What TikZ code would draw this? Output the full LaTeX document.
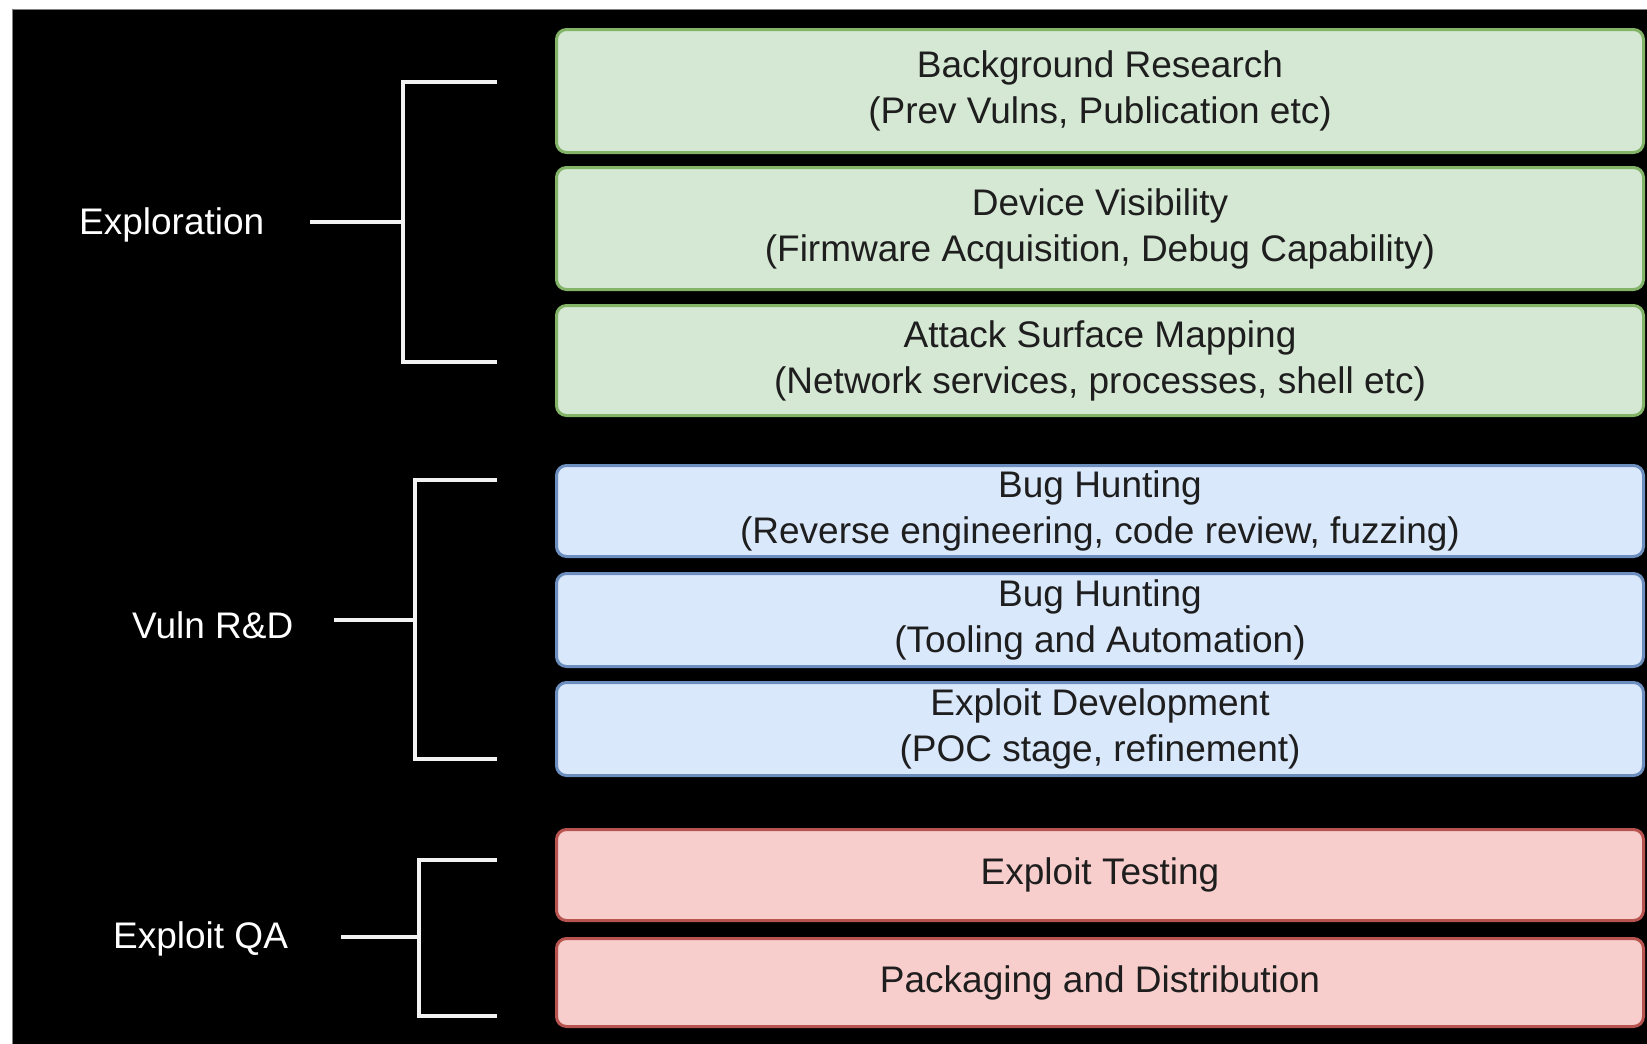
\documentclass[tikz,border=0pt]{standalone}
\usepackage{fontspec}
\setmainfont{Liberation Sans}
\definecolor{gfill}{HTML}{D5E8D4}
\definecolor{gline}{HTML}{82B366}
\definecolor{bfill}{HTML}{DAE8FC}
\definecolor{bline}{HTML}{6C8EBF}
\definecolor{rfill}{HTML}{F8CECC}
\definecolor{rline}{HTML}{B85450}
\definecolor{boxtext}{HTML}{1E1E1E}
\definecolor{brk}{HTML}{F2F2F2}
\begin{document}
\begin{tikzpicture}[x=1pt,y=-1pt,
  box/.style={line width=3pt, rounded corners=10pt, minimum width=1087pt,
    inner sep=0pt, align=center, text=boxtext,
    font=\fontsize{37}{46}\selectfont},
  gbox/.style={box, draw=gline, fill=gfill},
  bbox/.style={box, draw=bline, fill=bfill},
  rbox/.style={box, draw=rline, fill=rfill},
  lab/.style={text=white, inner sep=0pt, anchor=base west,
    font=\fontsize{37}{46}\selectfont},
  brack/.style={draw=brk, line width=4.5pt}]
\useasboundingbox (0,0) rectangle (1647,1044);
\fill[white] (0,0) rectangle (1647,1044);
\draw[fill=black, draw=gray, line width=1pt] (12,9) rectangle (1670,1070);

% boxes
\node[gbox, minimum height=123pt] (g1) at (1100,91) {Background Research\\(Prev Vulns, Publication etc)};
\node[gbox, minimum height=122pt] (g2) at (1100,228.5) {Device Visibility\\(Firmware Acquisition, Debug Capability)};
\node[gbox, minimum height=110pt] (g3) at (1100,360.5) {Attack Surface Mapping\\(Network services, processes, shell etc)};
\node[bbox, minimum height=91pt] (b1) at (1100,511) {Bug Hunting\\(Reverse engineering, code review, fuzzing)};
\node[bbox, minimum height=93pt] (b2) at (1100,620) {Bug Hunting\\(Tooling and Automation)};
\node[bbox, minimum height=93pt] (b3) at (1100,729) {Exploit Development\\(POC stage, refinement)};
\node[rbox, minimum height=91pt] (r1) at (1100,875) {Exploit Testing};
\node[rbox, minimum height=88pt] (r2) at (1100,982.5) {Packaging and Distribution};

% labels
\node[lab] (lexp) at (79,234) {Exploration};
\node[lab] (lvuln) at (132,638) {Vuln R\&D};
\node[lab] (lqa) at (113,948) {Exploit QA};

% bracket points
\coordinate (e1) at (497,82);  \coordinate (e2) at (403,82);
\coordinate (e3) at (403,362); \coordinate (e4) at (497,362);
\coordinate (es) at (310,222); \coordinate (ej) at (403,222);
\coordinate (v1) at (497,480); \coordinate (v2) at (415,480);
\coordinate (v3) at (415,759); \coordinate (v4) at (497,759);
\coordinate (vs) at (334,620); \coordinate (vj) at (415,620);
\coordinate (q1) at (497,860); \coordinate (q2) at (419,860);
\coordinate (q3) at (419,1016); \coordinate (q4) at (497,1016);
\coordinate (qs) at (341,937); \coordinate (qj) at (419,937);

\draw[brack] (e1) -- (e2) -- (e3) -- (e4);
\draw[brack] (es) -- (ej);
\draw[brack] (v1) -- (v2) -- (v3) -- (v4);
\draw[brack] (vs) -- (vj);
\draw[brack] (q1) -- (q2) -- (q3) -- (q4);
\draw[brack] (qs) -- (qj);
\end{tikzpicture}
\end{document}
